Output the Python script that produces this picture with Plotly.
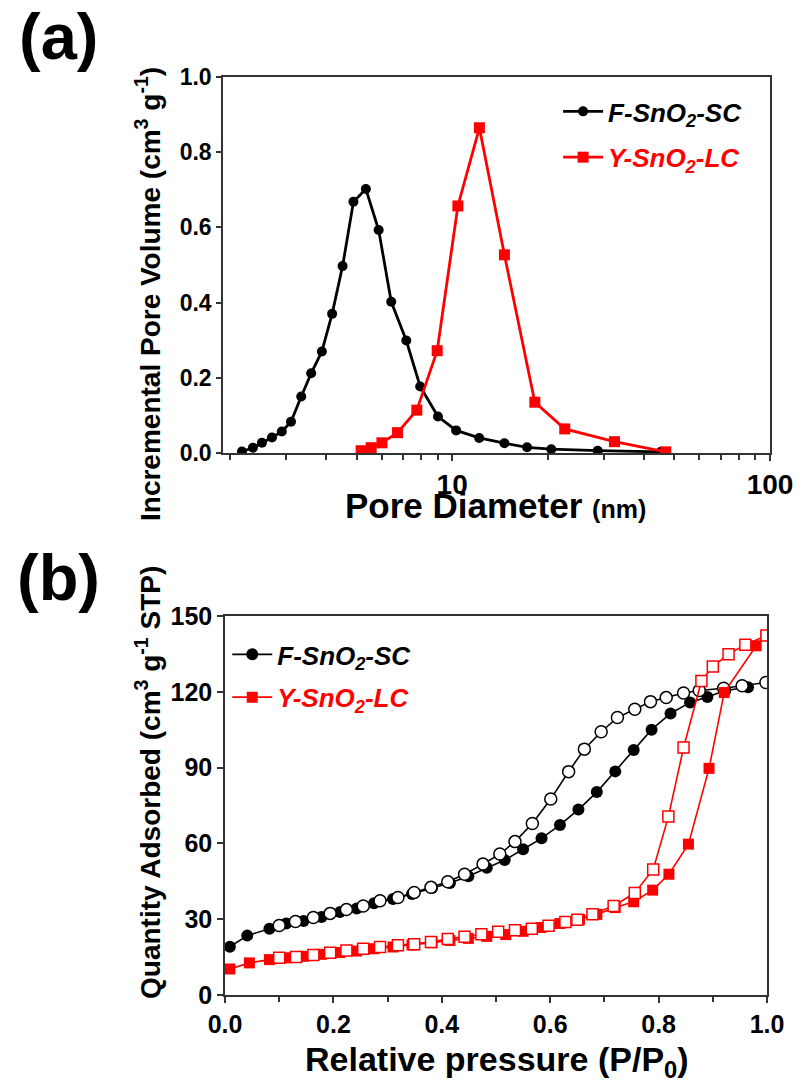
import plotly.graph_objects as go

# ---- (a) pore size distribution ----
f_diam = [2.18, 2.36, 2.52, 2.71, 2.91, 3.11, 3.35, 3.60, 3.89, 4.19, 4.52, 4.89,
          5.35, 5.87, 6.43, 7.17, 7.93, 9.02, 10.29, 12.16, 14.6, 17.2, 20.5, 28.7, 45.4]
f_vol = [0.004, 0.014, 0.027, 0.041, 0.057, 0.083, 0.150, 0.212, 0.270, 0.370, 0.497, 0.668,
         0.702, 0.593, 0.402, 0.299, 0.177, 0.097, 0.060, 0.040, 0.026, 0.015, 0.010, 0.006, 0.003]

y_diam = [5.17, 5.56, 6.01, 6.73, 7.74, 8.97, 10.42, 12.18, 14.6, 18.2, 22.6, 32.4, 47.0]
y_vol = [0.006, 0.014, 0.027, 0.054, 0.114, 0.272, 0.657, 0.865, 0.527, 0.135, 0.064, 0.030, 0.003]

# ---- (b) N2 isotherms ----
f_ads_p = [0.009, 0.041, 0.082, 0.113, 0.145, 0.178, 0.212, 0.243, 0.275, 0.31, 0.345, 0.382,
           0.415, 0.449, 0.483, 0.516, 0.550, 0.584, 0.618, 0.652, 0.686, 0.720, 0.754, 0.787,
           0.822, 0.858, 0.890, 0.923, 0.965]
f_ads_q = [19.1, 23.5, 26.2, 28.3, 29.3, 30.9, 32.8, 34.2, 36.3, 38.0, 40.0, 42.3,
           44.3, 47.0, 50.4, 53.4, 57.7, 62.0, 67.3, 73.4, 80.3, 88.5, 97.0, 105.0,
           111.4, 115.8, 117.9, 120.5, 121.8]

f_des_p = [0.100, 0.130, 0.163, 0.194, 0.224, 0.255, 0.286, 0.319, 0.349, 0.380, 0.411, 0.442,
           0.476, 0.507, 0.535, 0.567, 0.601, 0.634, 0.663, 0.694, 0.724, 0.756, 0.785, 0.814,
           0.846, 0.875, 0.920, 0.954, 0.998]
f_des_q = [27.5, 29.1, 30.7, 32.3, 33.8, 35.2, 37.3, 38.6, 40.6, 42.6, 44.8, 47.8,
           51.8, 55.8, 60.7, 67.9, 77.6, 88.4, 97.3, 104.2, 109.8, 113.1, 116.1, 117.7,
           119.5, 120.5, 121.4, 122.4, 123.7]

y_ads_p = [0.009, 0.045, 0.082, 0.113, 0.145, 0.178, 0.212, 0.243, 0.275, 0.31, 0.345, 0.382,
           0.415, 0.449, 0.483, 0.518, 0.550, 0.583, 0.618, 0.654, 0.686, 0.720, 0.754, 0.789,
           0.819, 0.855, 0.893, 0.921, 0.980, 0.998]
y_ads_q = [10.3, 12.7, 14.0, 14.7, 15.3, 16.1, 16.8, 17.4, 18.3, 19.0, 19.8, 20.7,
           21.6, 22.4, 23.2, 23.9, 25.2, 26.7, 28.3, 29.9, 31.9, 34.6, 36.9, 41.5,
           47.8, 59.7, 89.7, 119.7, 138.2, 142.3]

y_des_p = [0.100, 0.131, 0.163, 0.194, 0.224, 0.255, 0.286, 0.319, 0.349, 0.380, 0.411, 0.442,
           0.473, 0.504, 0.535, 0.566, 0.597, 0.628, 0.650, 0.678, 0.717, 0.756, 0.790, 0.818,
           0.846, 0.879, 0.900, 0.929, 0.960, 0.999]
y_des_q = [14.7, 15.0, 15.8, 16.7, 17.6, 18.3, 19.0, 19.7, 20.1, 21.0, 22.2, 23.1,
           24.0, 25.0, 25.6, 26.2, 27.4, 28.9, 29.8, 32.0, 35.2, 40.4, 49.7, 70.6,
           97.9, 124.3, 130.0, 134.9, 138.6, 142.3]

# log-axis ticks for panel (a)
log_major = [10, 100]
log_minor = [2, 3, 4, 5, 6, 7, 8, 9, 20, 30, 40, 50, 60, 70, 80, 90]

RED = "#FF0000"
FONT = "Liberation Sans"
F_NAME = "<b><i>F-SnO<sub>2</sub>-SC</i></b>"
Y_NAME = '<span style="color:#FF0000"><b><i>Y-SnO<sub>2</sub>-LC</i></b></span>'

fig = go.Figure()

# panel (a)
fig.add_trace(go.Scatter(
    x=f_diam, y=f_vol, mode="lines+markers", name=F_NAME,
    line=dict(color="black", width=2.8),
    marker=dict(symbol="circle", size=10, color="black"),
    xaxis="x", yaxis="y", legend="legend", legendgroup="a1"))
fig.add_trace(go.Scatter(
    x=y_diam, y=y_vol, mode="lines+markers", name=Y_NAME,
    line=dict(color=RED, width=2.8),
    marker=dict(symbol="square", size=11, color=RED),
    xaxis="x", yaxis="y", legend="legend", legendgroup="a2"))

# panel (b)
fig.add_trace(go.Scatter(
    x=f_ads_p, y=f_ads_q, mode="lines+markers", name=F_NAME,
    line=dict(color="black", width=1.6),
    marker=dict(symbol="circle", size=12, color="black"),
    xaxis="x2", yaxis="y2", legend="legend2", legendgroup="b1"))
fig.add_trace(go.Scatter(
    x=f_des_p, y=f_des_q, mode="lines+markers", showlegend=False,
    line=dict(color="black", width=1.6),
    marker=dict(symbol="circle", size=12, color="white",
                line=dict(color="black", width=1.5)),
    xaxis="x2", yaxis="y2"))
fig.add_trace(go.Scatter(
    x=y_ads_p, y=y_ads_q, mode="lines+markers", name=Y_NAME,
    line=dict(color=RED, width=1.6),
    marker=dict(symbol="square", size=11, color=RED),
    xaxis="x2", yaxis="y2", legend="legend2", legendgroup="b2"))
fig.add_trace(go.Scatter(
    x=y_des_p, y=y_des_q, mode="lines+markers", showlegend=False,
    line=dict(color=RED, width=1.6),
    marker=dict(symbol="square", size=11, color="white",
                line=dict(color=RED, width=1.5)),
    xaxis="x2", yaxis="y2"))

axis_common = dict(showline=True, linecolor="#333333", linewidth=1.5, mirror=True,
                   ticks="outside", tickcolor="#333333", tickwidth=1.5,
                   showgrid=False, zeroline=False, automargin=False)
minor_style = dict(ticks="outside", ticklen=5, tickcolor="#333333", tickwidth=1.5,
                   showgrid=False)

fig.update_layout(
    width=803, height=1086,
    margin=dict(l=0, r=0, t=0, b=0),
    paper_bgcolor="white", plot_bgcolor="white",
    font=dict(family=FONT, color="black"),
    xaxis=dict(domain=[0.2777, 0.9589], anchor="y", type="log",
               range=[0.2788, 2.0], tickmode="array", tickvals=log_major,
               ticktext=[str(v) for v in log_major], ticklen=6,
               minor=dict(tickmode="array", tickvals=log_minor, **minor_style),
               tickfont=dict(size=28, family=FONT, weight="bold"),
               **axis_common),
    yaxis=dict(domain=[0.5829, 0.9291], anchor="x", range=[0, 1.0], dtick=0.2,
               tickformat=".1f", ticklen=5,
               tickfont=dict(size=23, family=FONT, weight="bold"), **axis_common),
    xaxis2=dict(domain=[0.2802, 0.9552], anchor="y2", range=[0, 1.0], dtick=0.2,
                tickformat=".1f", ticklen=6,
                minor=dict(dtick=0.1, **minor_style),
                tickfont=dict(size=25, family=FONT, weight="bold"), **axis_common),
    yaxis2=dict(domain=[0.0838, 0.4328], anchor="x2", range=[0, 150], dtick=30,
                ticklen=6, tickfont=dict(size=25, family=FONT, weight="bold"),
                **axis_common),
    legend=dict(x=0.695, y=0.919, xanchor="left", yanchor="top",
                bgcolor="rgba(0,0,0,0)", font=dict(size=26, family=FONT, color="black"),
                traceorder="grouped", tracegroupgap=9, itemwidth=40),
    legend2=dict(x=0.283, y=0.419, xanchor="left", yanchor="top",
                 bgcolor="rgba(0,0,0,0)", font=dict(size=26, family=FONT, color="black"),
                 traceorder="grouped", tracegroupgap=6, itemwidth=40),
)

annotations = [
    dict(text="<b>(a)</b>", x=58 / 803, y=1 - 37 / 1086, font=dict(size=65)),
    dict(text="<b>(b)</b>", x=58 / 803, y=1 - 577 / 1086, font=dict(size=65)),
    dict(text="<b>Incremental Pore Volume (cm<sup>3</sup> g<sup>-1</sup>)</b>",
         x=148 / 803, y=1 - 294 / 1086, textangle=-90, font=dict(size=28)),
    dict(text="<b>Pore Diameter <span style='font-size:25px'>(nm)</span></b>",
         x=495 / 803, y=1 - 505 / 1086, font=dict(size=35)),
    dict(text="<b>Quantity Adsorbed (cm<sup>3</sup> g<sup>-1</sup> STP)</b>",
         x=148 / 803, y=1 - 783 / 1086, textangle=-90, font=dict(size=28)),
    dict(text="<b>Relative pressure (P/P<sub>0</sub>)</b>",
         x=497 / 803, y=1 - 1061 / 1086, font=dict(size=34)),
]
for a in annotations:
    a.update(xref="paper", yref="paper", showarrow=False,
             xanchor="center", yanchor="middle")
    a["font"].update(family=FONT, color="black")
fig.update_layout(annotations=annotations)

fig.write_html("out.html")
